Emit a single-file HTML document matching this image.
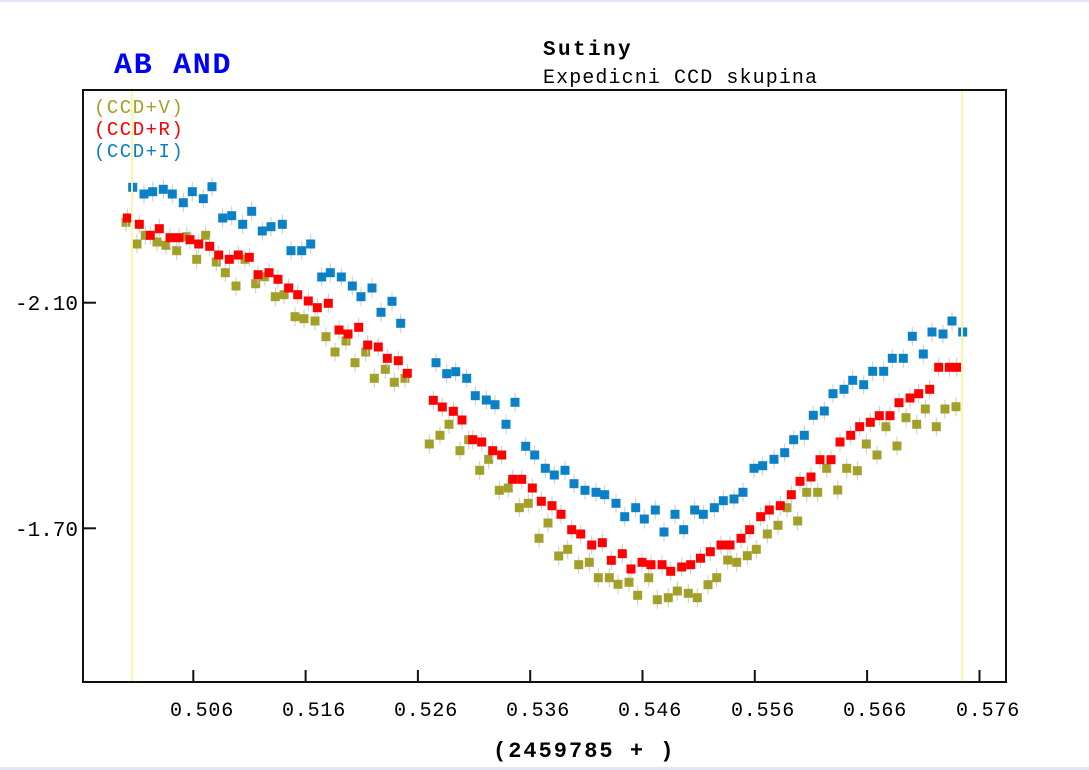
<!DOCTYPE html>
<html>
<head>
<meta charset="utf-8">
<style>
html,body{margin:0;padding:0;background:#fff;}
body{width:1089px;height:770px;overflow:hidden;}
svg{display:block;}
text{font-family:"Liberation Mono","DejaVu Sans Mono",monospace;}
</style>
</head>
<body>
<svg width="1089" height="770" viewBox="0 0 1089 770" xmlns="http://www.w3.org/2000/svg">
<defs>
  <g id="mi"><line x1="0" y1="-9.5" x2="0" y2="9.5" stroke="#c8c8c8" stroke-width="1"/><rect x="-4.5" y="-4.5" width="9" height="9" fill="#0a80c6"/></g>
  <g id="mr"><line x1="0" y1="-9.5" x2="0" y2="9.5" stroke="#c8c8c8" stroke-width="1"/><rect x="-4.5" y="-4.5" width="9" height="9" fill="#ff0000"/></g>
  <g id="mv"><line x1="0" y1="-9.5" x2="0" y2="9.5" stroke="#c8c8c8" stroke-width="1"/><rect x="-4.5" y="-4.5" width="9" height="9" fill="#a3a02a"/></g>
</defs>
<rect x="0" y="0" width="1089" height="770" fill="#fff"/>
<rect x="0" y="0" width="1089" height="2" fill="#e4e4f7"/>
<rect x="0" y="767" width="1089" height="3" fill="#e4e4f7"/>

<!-- titles -->
<text x="114" y="73" font-size="30" font-weight="bold" fill="#0000ff" letter-spacing="1.7">AB AND</text>
<text x="543" y="55" font-size="21" font-weight="bold" fill="#000" letter-spacing="2.4">Sutiny</text>
<text x="543" y="83" font-size="20" fill="#000" letter-spacing="1.1">Expedicni CCD skupina</text>

<!-- frame -->
<rect x="83" y="90" width="923" height="592" fill="none" stroke="#111" stroke-width="2"/>

<!-- y ticks -->
<line x1="83" y1="302.7" x2="96" y2="302.7" stroke="#111" stroke-width="2"/>
<line x1="83" y1="528.3" x2="96" y2="528.3" stroke="#111" stroke-width="2"/>
<text x="78" y="310" font-size="21" fill="#000" text-anchor="end">-2.10</text>
<text x="78" y="536" font-size="21" fill="#000" text-anchor="end">-1.70</text>

<!-- x ticks -->
<g stroke="#111" stroke-width="2">
<line x1="193.3" y1="682" x2="193.3" y2="670"/>
<line x1="305.6" y1="682" x2="305.6" y2="670"/>
<line x1="417.9" y1="682" x2="417.9" y2="670"/>
<line x1="530.2" y1="682" x2="530.2" y2="670"/>
<line x1="642.5" y1="682" x2="642.5" y2="670"/>
<line x1="754.8" y1="682" x2="754.8" y2="670"/>
<line x1="867.1" y1="682" x2="867.1" y2="670"/>
<line x1="979.5" y1="682" x2="979.5" y2="670"/>
</g>
<g font-size="20" fill="#000" letter-spacing="0.8">
<text x="170" y="716">0.506</text>
<text x="282" y="716">0.516</text>
<text x="394" y="716">0.526</text>
<text x="506" y="716">0.536</text>
<text x="618" y="716">0.546</text>
<text x="731" y="716">0.556</text>
<text x="843" y="716">0.566</text>
<text x="956" y="716">0.576</text>
</g>
<text x="493" y="757" font-size="22" font-weight="bold" fill="#000" letter-spacing="2">(2459785 + )</text>

<!-- legend -->
<g font-size="19" letter-spacing="1.5">
<text x="94" y="113" fill="#a3a02a">(CCD+V)</text>
<text x="94" y="135" fill="#ff0000">(CCD+R)</text>
<text x="94" y="157" fill="#0a80c6">(CCD+I)</text>
</g>

<!-- V series -->
<g>
<use href="#mv" x="126" y="222.3"/><use href="#mv" x="137" y="244"/><use href="#mv" x="145.3" y="235.3"/><use href="#mv" x="157" y="242"/><use href="#mv" x="166" y="245.3"/><use href="#mv" x="176.7" y="250.7"/><use href="#mv" x="186.7" y="236.7"/><use href="#mv" x="196.7" y="259.3"/><use href="#mv" x="205.7" y="235.3"/><use href="#mv" x="216.3" y="262"/><use href="#mv" x="225.3" y="272.7"/><use href="#mv" x="236" y="286"/><use href="#mv" x="245" y="259.3"/><use href="#mv" x="255.7" y="283.7"/><use href="#mv" x="265" y="276.7"/><use href="#mv" x="275.3" y="296.7"/><use href="#mv" x="284" y="294.7"/><use href="#mv" x="295" y="316.7"/><use href="#mv" x="304" y="318.7"/><use href="#mv" x="315" y="321"/><use href="#mv" x="326" y="336.7"/><use href="#mv" x="335" y="352"/><use href="#mv" x="346" y="341"/><use href="#mv" x="355" y="362.7"/><use href="#mv" x="365.7" y="352"/><use href="#mv" x="374.3" y="378.3"/><use href="#mv" x="385.3" y="369.3"/><use href="#mv" x="394.3" y="382.3"/><use href="#mv" x="405" y="378.3"/>
<use href="#mv" x="429.3" y="444"/><use href="#mv" x="440" y="435.3"/><use href="#mv" x="449" y="424.3"/><use href="#mv" x="460" y="450.7"/><use href="#mv" x="468.7" y="439.7"/><use href="#mv" x="479.7" y="470.3"/><use href="#mv" x="488.7" y="459.3"/><use href="#mv" x="499.3" y="490.3"/><use href="#mv" x="508.3" y="488"/><use href="#mv" x="519.3" y="507.7"/><use href="#mv" x="528.3" y="503.3"/><use href="#mv" x="539" y="538.3"/><use href="#mv" x="548" y="523"/><use href="#mv" x="558.7" y="556"/><use href="#mv" x="567.7" y="549.3"/><use href="#mv" x="578.7" y="564.7"/><use href="#mv" x="589.3" y="562.3"/><use href="#mv" x="598.3" y="577.7"/><use href="#mv" x="609.3" y="577.7"/><use href="#mv" x="618" y="584.3"/><use href="#mv" x="629" y="582.3"/><use href="#mv" x="637.7" y="595.3"/><use href="#mv" x="648.7" y="577.7"/><use href="#mv" x="657.3" y="599.7"/><use href="#mv" x="668.3" y="597.7"/><use href="#mv" x="677.3" y="591"/><use href="#mv" x="688.3" y="593.3"/><use href="#mv" x="697.3" y="597.7"/><use href="#mv" x="708" y="584.7"/><use href="#mv" x="716.7" y="577.7"/><use href="#mv" x="727.7" y="560"/><use href="#mv" x="736.7" y="562.3"/><use href="#mv" x="747.3" y="555.7"/><use href="#mv" x="756.3" y="549.3"/><use href="#mv" x="767.3" y="534"/><use href="#mv" x="778" y="525.3"/><use href="#mv" x="787" y="507.7"/><use href="#mv" x="797.7" y="521"/><use href="#mv" x="806.7" y="492.3"/><use href="#mv" x="817.7" y="492.3"/><use href="#mv" x="826.7" y="468.3"/><use href="#mv" x="837.7" y="490"/><use href="#mv" x="846.7" y="468.3"/><use href="#mv" x="857.3" y="470.7"/><use href="#mv" x="866.3" y="444"/><use href="#mv" x="877" y="455"/><use href="#mv" x="886" y="426.7"/><use href="#mv" x="897" y="446"/><use href="#mv" x="906" y="417.7"/><use href="#mv" x="916.7" y="424.3"/><use href="#mv" x="925.3" y="409"/><use href="#mv" x="936.3" y="426.7"/><use href="#mv" x="945" y="409"/><use href="#mv" x="956" y="406.7"/>
</g>

<!-- R series -->
<g>
<use href="#mr" x="127.3" y="218"/><use href="#mr" x="139.3" y="224.3"/><use href="#mr" x="150.3" y="235.3"/><use href="#mr" x="159.3" y="228.7"/><use href="#mr" x="170" y="237.7"/><use href="#mr" x="179" y="237.7"/><use href="#mr" x="190" y="239.7"/><use href="#mr" x="198.7" y="244"/><use href="#mr" x="209.7" y="246.3"/><use href="#mr" x="218.7" y="255"/><use href="#mr" x="229.3" y="259.3"/><use href="#mr" x="238.3" y="255"/><use href="#mr" x="249.3" y="257.3"/><use href="#mr" x="258" y="274.7"/><use href="#mr" x="269" y="272.7"/><use href="#mr" x="278" y="279.3"/><use href="#mr" x="288.7" y="288"/><use href="#mr" x="297.7" y="294.7"/><use href="#mr" x="308.3" y="301"/><use href="#mr" x="317.3" y="307.7"/><use href="#mr" x="328.3" y="303.3"/><use href="#mr" x="339" y="330"/><use href="#mr" x="348" y="334"/><use href="#mr" x="358.7" y="327.3"/><use href="#mr" x="367.7" y="345"/><use href="#mr" x="378.3" y="347"/><use href="#mr" x="387.3" y="358.3"/><use href="#mr" x="398.3" y="360.7"/><use href="#mr" x="407.3" y="373.3"/>
<use href="#mr" x="433.3" y="400.3"/><use href="#mr" x="442.3" y="407"/><use href="#mr" x="453.3" y="411.3"/><use href="#mr" x="462" y="420"/><use href="#mr" x="472.7" y="439.7"/><use href="#mr" x="481.7" y="442"/><use href="#mr" x="492.7" y="450.7"/><use href="#mr" x="501.7" y="455"/><use href="#mr" x="512.7" y="479.3"/><use href="#mr" x="521.7" y="479.3"/><use href="#mr" x="532.3" y="488"/><use href="#mr" x="541.3" y="501.3"/><use href="#mr" x="552" y="505.7"/><use href="#mr" x="561" y="514.3"/><use href="#mr" x="571.7" y="529.7"/><use href="#mr" x="580.7" y="534"/><use href="#mr" x="591.7" y="545"/><use href="#mr" x="602.3" y="542.7"/><use href="#mr" x="611.3" y="560.3"/><use href="#mr" x="622.3" y="553.7"/><use href="#mr" x="631" y="569"/><use href="#mr" x="642" y="562.3"/><use href="#mr" x="651" y="564.7"/><use href="#mr" x="662" y="564.7"/><use href="#mr" x="670.7" y="571.3"/><use href="#mr" x="681.7" y="567"/><use href="#mr" x="690.7" y="564.7"/><use href="#mr" x="700.5" y="558.2"/><use href="#mr" x="710.3" y="551.7"/><use href="#mr" x="721" y="545"/><use href="#mr" x="730" y="545"/><use href="#mr" x="741" y="538.3"/><use href="#mr" x="749.7" y="529.7"/><use href="#mr" x="760.7" y="516.7"/><use href="#mr" x="769.3" y="510"/><use href="#mr" x="780.3" y="505.7"/><use href="#mr" x="791.3" y="494.7"/><use href="#mr" x="800" y="481.3"/><use href="#mr" x="811" y="477"/><use href="#mr" x="820" y="459.7"/><use href="#mr" x="831" y="459.7"/><use href="#mr" x="840" y="442"/><use href="#mr" x="850.7" y="435.3"/><use href="#mr" x="859.7" y="426.7"/><use href="#mr" x="870.3" y="422.3"/><use href="#mr" x="879.3" y="415.7"/><use href="#mr" x="890" y="415.7"/><use href="#mr" x="899" y="402.7"/><use href="#mr" x="910" y="398"/><use href="#mr" x="918.7" y="393.7"/><use href="#mr" x="929.7" y="389.3"/><use href="#mr" x="938.7" y="367.3"/><use href="#mr" x="949.3" y="367.3"/><use href="#mr" x="956.7" y="367.3"/>
</g>

<!-- I series -->
<g>
<use href="#mi" x="132.7" y="187.3"/><use href="#mi" x="144" y="194"/><use href="#mi" x="152.7" y="191.7"/><use href="#mi" x="163.3" y="189.3"/><use href="#mi" x="172.3" y="194"/><use href="#mi" x="183.3" y="202.7"/><use href="#mi" x="192.3" y="191.7"/><use href="#mi" x="203.3" y="198.7"/><use href="#mi" x="212" y="186.7"/><use href="#mi" x="222.7" y="218"/><use href="#mi" x="231.7" y="215.7"/><use href="#mi" x="242.7" y="224.3"/><use href="#mi" x="251.7" y="211.3"/><use href="#mi" x="262.3" y="231"/><use href="#mi" x="271" y="226.7"/><use href="#mi" x="282.3" y="224.3"/><use href="#mi" x="291" y="250.7"/><use href="#mi" x="301.7" y="250.7"/><use href="#mi" x="310.7" y="244"/><use href="#mi" x="321.7" y="277"/><use href="#mi" x="330.3" y="272.7"/><use href="#mi" x="341.3" y="277"/><use href="#mi" x="352.3" y="286"/><use href="#mi" x="361" y="296.7"/><use href="#mi" x="372" y="288"/><use href="#mi" x="381" y="312.3"/><use href="#mi" x="392" y="301.3"/><use href="#mi" x="400.7" y="323.3"/>
<use href="#mi" x="436" y="362.7"/><use href="#mi" x="446.7" y="373.7"/><use href="#mi" x="455.7" y="371.7"/><use href="#mi" x="466.7" y="378.3"/><use href="#mi" x="475.3" y="395.7"/><use href="#mi" x="486.3" y="400"/><use href="#mi" x="495" y="404.7"/><use href="#mi" x="506" y="424.3"/><use href="#mi" x="515" y="402.3"/><use href="#mi" x="525.7" y="446.3"/><use href="#mi" x="534.7" y="455"/><use href="#mi" x="545.3" y="468.3"/><use href="#mi" x="554.3" y="475"/><use href="#mi" x="565" y="470.3"/><use href="#mi" x="574" y="483.7"/><use href="#mi" x="585" y="490.3"/><use href="#mi" x="596" y="492.3"/><use href="#mi" x="604.7" y="494.7"/><use href="#mi" x="616" y="503.3"/><use href="#mi" x="624.7" y="516.7"/><use href="#mi" x="635.7" y="507.7"/><use href="#mi" x="644.3" y="519"/><use href="#mi" x="655.3" y="510"/><use href="#mi" x="664" y="532"/><use href="#mi" x="675" y="514.3"/><use href="#mi" x="683.7" y="529.7"/><use href="#mi" x="694.7" y="510"/><use href="#mi" x="703.3" y="514.3"/><use href="#mi" x="714.3" y="507.7"/><use href="#mi" x="723.3" y="500.7"/><use href="#mi" x="734" y="499"/><use href="#mi" x="743" y="492.3"/><use href="#mi" x="754" y="468.3"/><use href="#mi" x="762.7" y="465.7"/><use href="#mi" x="774" y="459.3"/><use href="#mi" x="784.7" y="452.7"/><use href="#mi" x="793.7" y="439.7"/><use href="#mi" x="804.3" y="435.3"/><use href="#mi" x="813.3" y="415.3"/><use href="#mi" x="824.3" y="411"/><use href="#mi" x="833" y="393.7"/><use href="#mi" x="844" y="389.3"/><use href="#mi" x="852.7" y="380.3"/><use href="#mi" x="863.7" y="384.7"/><use href="#mi" x="872.7" y="371.3"/><use href="#mi" x="883.7" y="371.3"/><use href="#mi" x="892.3" y="358.3"/><use href="#mi" x="903.3" y="358.3"/><use href="#mi" x="912.3" y="336.3"/><use href="#mi" x="923.3" y="354"/><use href="#mi" x="932" y="332"/><use href="#mi" x="943" y="334"/><use href="#mi" x="952" y="321"/><use href="#mi" x="962.7" y="332"/>
</g>

<!-- yellow markers (on top) -->
<line x1="132" y1="91" x2="132" y2="681" stroke="#fff3a0" stroke-width="2" opacity="0.9"/>
<line x1="962" y1="91" x2="962" y2="681" stroke="#fff3a0" stroke-width="2" opacity="0.9"/>
</svg>
</body>
</html>
